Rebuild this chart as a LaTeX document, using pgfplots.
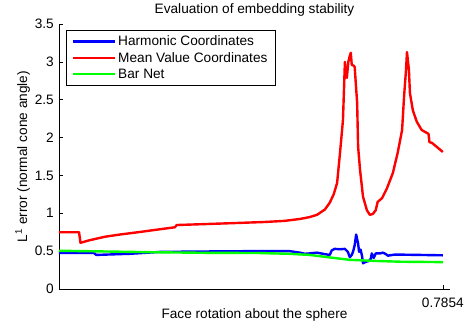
\documentclass[border=0pt]{standalone}
\usepackage{fontspec}
\setmainfont{Liberation Sans}
\usepackage{pgfplots}
\pgfplotsset{compat=1.18}
\definecolor{mblue}{RGB}{0,0,255}
\definecolor{mred}{RGB}{255,0,0}
\definecolor{mgreen}{RGB}{0,255,0}
\begin{document}
\begin{tikzpicture}
\useasboundingbox (0,0) rectangle (466bp,329bp);
\begin{axis}[
  at={(59bp,40bp)}, anchor=south west,
  scale only axis, width=391bp, height=265bp,
  xmin=0, xmax=0.8, ymin=0, ymax=3.5,
  axis x line*=bottom, axis y line*=left,
  axis line style={line width=0.6bp, black, -},
  xtick={0.7854}, xticklabels={0.7854},
  ytick={0,0.5,1,1.5,2,2.5,3,3.5}, yticklabels={0,0.5,1,1.5,2,2.5,3,3.5},
  tick align=inside, major tick length=4bp,
  tick style={black, line width=0.6bp},
  font=\fontsize{13.7}{16}\selectfont,
  yticklabel style={anchor=east, inner sep=0pt, xshift=-5bp},
  xticklabel style={anchor=base, inner sep=0pt, yshift=-18bp},
  title={Evaluation of embedding stability},
  every axis title/.style={at={(axis description cs:0.5,1)}, anchor=base, yshift=10.5bp, inner sep=0pt},
  xlabel={Face rotation about the sphere},
  xlabel style={at={(axis description cs:0.5,0)}, anchor=base, yshift=-29bp, inner sep=0pt},
  ylabel={L\textsuperscript{1} error (normal cone angle)},
  ylabel style={at={(axis description cs:-0.0818,0.5)}, anchor=base, inner sep=0pt},
  legend cell align=left,
  legend image code/.code={\draw[#1, line width=2.4bp] (0bp,0bp) -- (42bp,0bp);},
  legend style={at={(axis description cs:0.018,0.977)}, anchor=north west,
    draw=black, line width=0.6bp, inner xsep=5bp, inner ysep=3bp,
    nodes={inner sep=2.5bp, text depth=0.15em},
    font=\fontsize{13.7}{16}\selectfont},
  every axis plot/.append style={line width=2.4bp, line join=round},
]
\addplot[mblue] coordinates {
(0,0.475) (0.072,0.475) (0.076,0.45) (0.145,0.465) (0.207,0.49) (0.288,0.495)
(0.391,0.50) (0.472,0.50) (0.493,0.48) (0.503,0.465) (0.513,0.47) (0.519,0.475)
(0.528,0.48) (0.536,0.47) (0.544,0.46) (0.554,0.45) (0.558,0.51) (0.564,0.53)
(0.575,0.525) (0.585,0.53) (0.591,0.49) (0.595,0.42) (0.599,0.45) (0.602,0.50)
(0.605,0.58) (0.608,0.72) (0.612,0.60) (0.614,0.49) (0.617,0.52) (0.620,0.44)
(0.622,0.34) (0.628,0.36) (0.634,0.37) (0.638,0.40) (0.640,0.47) (0.644,0.41)
(0.648,0.47) (0.657,0.47) (0.663,0.48) (0.669,0.46) (0.673,0.44) (0.687,0.455)
(0.738,0.45) (0.7854,0.445)
};
\addlegendentry{Harmonic Coordinates}
\addplot[mred] coordinates {
(0,0.75) (0.041,0.75) (0.044,0.61) (0.063,0.645) (0.094,0.69) (0.125,0.72)
(0.162,0.75) (0.196,0.78) (0.237,0.815) (0.241,0.845) (0.288,0.855) (0.356,0.87)
(0.421,0.885) (0.462,0.90) (0.493,0.925) (0.513,0.95) (0.528,0.98) (0.544,1.05)
(0.554,1.14) (0.562,1.25) (0.569,1.40) (0.575,1.80) (0.581,2.23) (0.585,3.0)
(0.587,2.80) (0.589,2.79) (0.592,3.0) (0.595,3.08) (0.597,3.12) (0.599,2.96)
(0.603,2.95) (0.605,2.93) (0.610,2.46) (0.612,1.88) (0.616,1.57) (0.622,1.22)
(0.630,1.04) (0.636,0.98) (0.642,0.99) (0.648,1.04) (0.652,1.15) (0.661,1.20)
(0.671,1.33) (0.683,1.53) (0.693,1.80) (0.702,2.10) (0.706,2.54) (0.710,2.89)
(0.712,3.13) (0.716,2.89) (0.718,2.59) (0.724,2.36) (0.732,2.21) (0.742,2.10)
(0.753,2.06) (0.756,2.05) (0.758,1.94) (0.763,1.93) (0.7854,1.81)
};
\addlegendentry{Mean Value Coordinates}
\addplot[mgreen] coordinates {
(0,0.505) (0.1,0.495) (0.2,0.485) (0.3,0.478) (0.41,0.475) (0.47,0.465)
(0.513,0.45) (0.55,0.42) (0.595,0.385) (0.65,0.37) (0.7,0.36) (0.7854,0.355)
};
\addlegendentry{Bar Net}
\end{axis}
\end{tikzpicture}
\end{document}
